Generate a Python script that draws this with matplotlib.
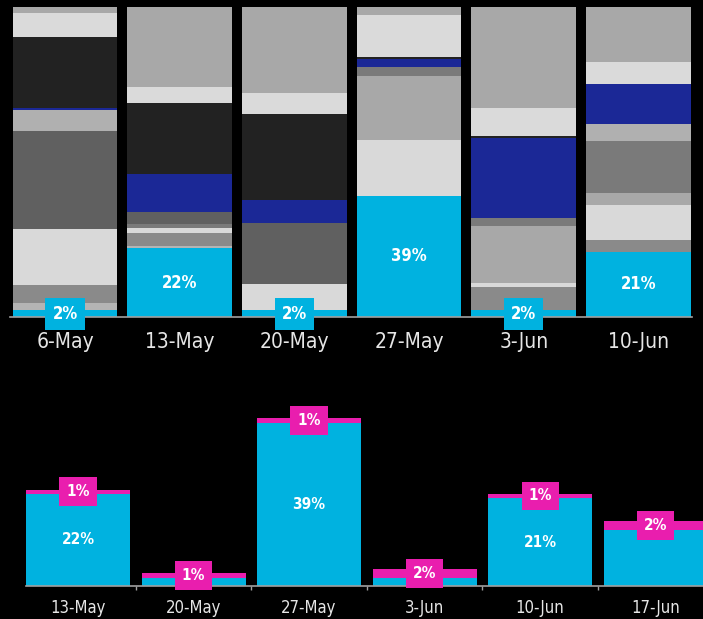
import numpy as np
import matplotlib
matplotlib.use("Agg")
import matplotlib.pyplot as plt

plt.rcParams['font.family'] = ['DejaVu Sans']
plt.rcParams['font.stretch'] = 'condensed'

# --- share of each segment per week (bottom to top), percent ---
weeks_top = ['6-May', '13-May', '20-May', '27-May', '3-Jun', '10-Jun']
cyan_share = [2, 22, 2, 39, 2, 21]
seg_a = [2.3, 0.8, 0, 0, 0, 0]
seg_b = [5.8, 4.3, 0, 0, 7.5, 3.8]
seg_c = [18.1, 1.6, 8.6, 18.1, 1.3, 11.3]
seg_d = [0, 0, 0, 20.7, 18.6, 3.8]
seg_e2 = [0, 1.3, 0, 2.9, 2.3, 16.9]
seg_e1 = [31.7, 3.7, 19.7, 0, 0, 0]
seg_f = [6.8, 0, 0, 0, 0, 5.4]
blue_share = [0.75, 12.4, 7.4, 2.5, 26, 12.9]
dark_share = [22.9, 22.9, 27.7, 0.7, 0.5, 0]
seg_g = [7.7, 5.1, 6.7, 13.4, 9.1, 7.0]
seg_h = [1.9, 25.9, 27.9, 2.7, 32.6, 18.0]

# --- weekly bars in the lower panel ---
weeks_bot = ['13-May', '20-May', '27-May', '3-Jun', '10-Jun', '17-Jun']
cyan_bot = [22, 2, 39, 2, 21, 13.4]
pink_bot = [1, 1, 1, 2, 1, 2]
cyan_bot_labels = ['22%', '', '39%', '', '21%', '']

CYAN = '#00b2e0'
PINK = '#e91eae'
BLUE = '#1b2896'

stack = [
    (cyan_share, CYAN),
    (seg_a, '#b4b4b4'),
    (seg_b, '#8a8a8a'),
    (seg_c, '#d9d9d9'),
    (seg_d, '#a8a8a8'),
    (seg_e2, '#7a7a7a'),
    (seg_e1, '#606060'),
    (seg_f, '#b0b0b0'),
    (blue_share, BLUE),
    (dark_share, '#222222'),
    (seg_g, '#dadada'),
    (seg_h, '#a8a8a8'),
]

fig = plt.figure(figsize=(7.03, 6.19), dpi=100, facecolor='black')

# upper panel: 100% stacked bars
ax1 = fig.add_axes([0.0142, 0.4884, 0.970, 0.5008])
ax1.set_facecolor('black')
x1 = np.arange(len(weeks_top))
bottom = np.zeros(len(weeks_top))
for vals, col in stack:
    v = np.array(vals, dtype=float)
    ax1.bar(x1, v, bottom=bottom, width=0.913, color=col, linewidth=0)
    bottom += v

for i, val in enumerate(cyan_share):
    if val >= 5:
        ax1.text(i, val / 2, f'{val}%', ha='center', va='center',
                 color='white', fontsize=12, fontweight='bold')
    else:
        ax1.text(i, val / 2, f'{val}%', ha='center', va='center',
                 color='white', fontsize=12, fontweight='bold',
                 bbox=dict(boxstyle='square,pad=0.42', fc=CYAN, ec='none'))

ax1.set_xlim(-0.48, 5.466)
ax1.set_ylim(0, 100)
ax1.set_xticks(x1)
ax1.set_xticklabels(weeks_top, color='#e6e6e6', fontsize=15)
ax1.tick_params(axis='x', length=0, pad=11)
ax1.set_yticks([])
for s in ['top', 'left', 'right']:
    ax1.spines[s].set_visible(False)
ax1.spines['bottom'].set_color('#a0a0a0')
ax1.spines['bottom'].set_linewidth(1.2)

# lower panel: cyan bars with pink caps
ax2 = fig.add_axes([0.037, 0.0533, 0.963, 0.2843])
ax2.set_facecolor('black')
x2 = np.arange(len(weeks_bot))
ax2.bar(x2, cyan_bot, width=0.90, color=CYAN, linewidth=0)
ax2.bar(x2, pink_bot, bottom=cyan_bot, width=0.90, color=PINK, linewidth=0)

for i in range(len(weeks_bot)):
    if cyan_bot_labels[i]:
        ax2.text(i, cyan_bot[i] / 2, cyan_bot_labels[i], ha='center', va='center',
                 color='white', fontsize=11, fontweight='bold')
    ax2.text(i, cyan_bot[i] + pink_bot[i] / 2, f'{pink_bot[i]}%', ha='center',
             va='center', color='white', fontsize=11, fontweight='bold',
             bbox=dict(boxstyle='square,pad=0.45', fc=PINK, ec='none'))

ax2.set_xlim(-0.45, 5.41)
ax2.set_ylim(0, 42)
ax2.set_xticks(x2)
ax2.set_xticklabels(weeks_bot, color='#e6e6e6', fontsize=12)
ax2.set_xticks(x2[:-1] + 0.5, minor=True)
ax2.tick_params(axis='x', which='major', length=0, pad=9)
ax2.tick_params(axis='x', which='minor', length=3, width=1, color='#a0a0a0')
ax2.set_yticks([])
for s in ['top', 'left', 'right']:
    ax2.spines[s].set_visible(False)
ax2.spines['bottom'].set_color('#a0a0a0')
ax2.spines['bottom'].set_linewidth(1.2)

fig.savefig('out.png', dpi=100, facecolor='black')
